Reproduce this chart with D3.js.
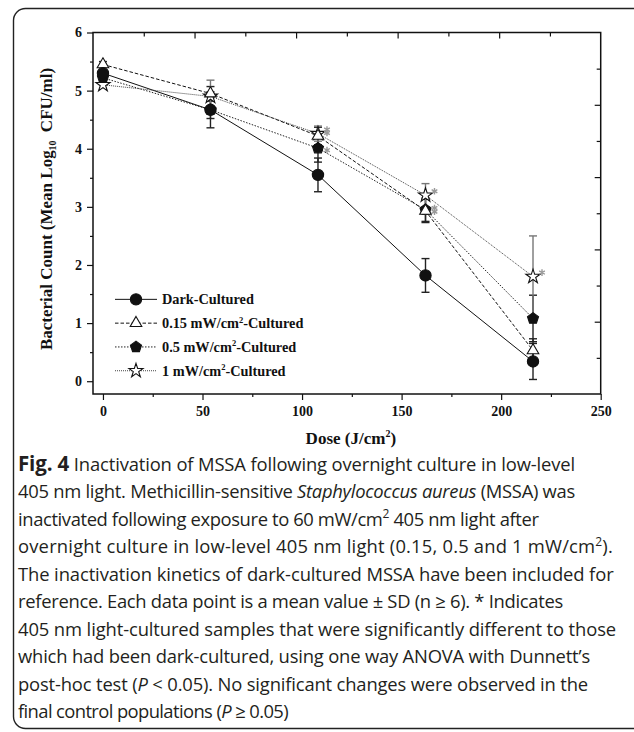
<!DOCTYPE html>
<html>
<head>
<meta charset="utf-8">
<script src="https://cdn.jsdelivr.net/npm/d3@7"></script>
<style>
  body { margin: 0; background: #fff; }
  #container { width: 634px; height: 732px; overflow: hidden; }
  .caption { font-family: "Open Sans", "Noto Sans", sans-serif; font-size: 18.4px; fill: #231f20; }
</style>
</head>
<body>
<div id="container"></div>
<script>
// data
const dose = [0, 54, 108, 162, 216];
const seriesNames = ['Dark-Cultured', '0.15 mW/cm', '0.5  mW/cm', '1  mW/cm'];
const darkMean = [5.30, 4.67, 3.55, 1.82, 0.34];
const darkSD = [0.05, 0.31, 0.29, 0.29, 0.31];
const lowMean = [5.45, 4.95, 4.22, 2.93, 0.53];
const lowSD = [0.05, 0.12, 0.15, 0.2, 0.2];
const midMean = [5.22, 4.67, 4.01, 2.95, 1.08];
const midSD = [0.05, 0.15, 0.24, 0.2, 0.4];
const highMean = [5.10, 4.90, 4.26, 3.20, 1.80];
const highSD = [0.05, 0.28, 0.13, 0.2, 0.7];
const lowSig = [0, 0, 1, 1, 0];
const midSig = [0, 0, 1, 1, 0];
const highSig = [0, 0, 1, 1, 1];
const xTicks = [0, 50, 100, 150, 200, 250];
const yTicks = [0, 1, 2, 3, 4, 5, 6];

const captionLines = [
  [['b', 'Fig. 4'], ['', ' Inactivation of MSSA following overnight culture in low-level']],
  [['', '405 nm light. Methicillin-sensitive '], ['i', 'Staphylococcus aureus'], ['', ' (MSSA) was']],
  [['', 'inactivated following exposure to 60 mW/cm'], ['s', '2'], ['', ' 405 nm light after']],
  [['', 'overnight culture in low-level 405 nm light (0.15, 0.5 and 1 mW/cm'], ['s', '2'], ['', ').']],
  [['', 'The inactivation kinetics of dark-cultured MSSA have been included for']],
  [['', 'reference. Each data point is a mean value \u00b1 SD (n \u2265 6). * Indicates']],
  [['', '405 nm light-cultured samples that were significantly different to those']],
  [['', 'which had been dark-cultured, using one way ANOVA with Dunnett\u2019s']],
  [['', 'post-hoc test ('], ['i', 'P'], ['', ' < 0.05). No significant changes were observed in the']],
  [['', 'final control populations ('], ['i', 'P'], ['', ' \u2265 0.05)']]
];
// right end of each caption line in the reference (layout)
const captionEnds = [575, 575, 539, 613, 614, 563, 616, 590, 588, 288];

const width = 634, height = 732;
const svg = d3.select('#container').append('svg')
  .attr('width', width).attr('height', height);

// rounded frame
svg.append('rect')
  .attr('x', 13.5).attr('y', 8.5)
  .attr('width', 640).attr('height', 720)
  .attr('rx', 12)
  .attr('fill', 'none').attr('stroke', '#222').attr('stroke-width', 1.4);

const pLeft = 93, pRight = 600.7, pTop = 32.5, pBottom = 394;
const x = d3.scaleLinear().domain([-5, 250]).range([pLeft, pRight]);
const y = d3.scaleLinear().domain([-0.22, 6]).range([pBottom, pTop]);
const serif = '"Liberation Serif", "Times New Roman", serif';

const g = svg.append('g').attr('font-family', serif);

// axes
const styleAxis = sel => {
  sel.attr('font-size', 14);
  sel.select('.domain').remove();
  sel.selectAll('line').attr('stroke', '#111').attr('stroke-width', 1.2);
  sel.selectAll('text').attr('font-family', serif).attr('font-weight', 'bold')
    .attr('font-size', 14).attr('fill', '#111');
};

g.append('g').attr('transform', `translate(0,${pBottom})`)
  .call(d3.axisBottom(x).tickValues(xTicks).tickSize(6).tickPadding(6).tickFormat(d3.format('d')))
  .call(styleAxis);
g.append('g').attr('transform', `translate(0,${pBottom})`)
  .call(d3.axisBottom(x).tickValues([25, 75, 125, 175, 225]).tickSize(3).tickFormat(''))
  .call(styleAxis);
g.append('g').attr('transform', `translate(${pLeft},0)`)
  .call(d3.axisLeft(y).tickValues(yTicks).tickSize(6).tickPadding(5).tickFormat(d3.format('d')))
  .call(styleAxis);
g.append('g').attr('transform', `translate(${pLeft},0)`)
  .call(d3.axisLeft(y).tickValues([0.5, 1.5, 2.5, 3.5, 4.5, 5.5]).tickSize(3).tickFormat(''))
  .call(styleAxis);

// top and right frame ticks (ten divisions each)
const xTop = d3.scaleLinear().domain([0, 10]).range([pLeft, pRight]);
const yRight = d3.scaleLinear().domain([0, 10]).range([pBottom, pTop]);
g.append('g').attr('transform', `translate(0,${pTop})`)
  .call(d3.axisBottom(xTop).tickValues(d3.range(1, 10)).tickSize(5).tickFormat(''))
  .call(styleAxis)
  .selectAll('.tick line').attr('y2', d => d % 2 ? 4 : 6);
g.append('g').attr('transform', `translate(${pRight},0)`)
  .call(d3.axisLeft(yRight).tickValues(d3.range(1, 10)).tickSize(5).tickFormat(''))
  .call(styleAxis)
  .selectAll('.tick line').attr('x2', d => d % 2 ? -4 : -6);

g.append('rect')
  .attr('x', pLeft).attr('y', pTop)
  .attr('width', pRight - pLeft).attr('height', pBottom - pTop)
  .attr('fill', 'none').attr('stroke', '#111').attr('stroke-width', 1.5);

// axis titles
const xt = g.append('text')
  .attr('x', (pLeft + pRight) / 2 + 4).attr('y', 444)
  .attr('text-anchor', 'middle').attr('font-weight', 'bold').attr('font-size', 17).attr('fill', '#111');
xt.append('tspan').text('Dose (J/cm');
xt.append('tspan').attr('font-size', 10).attr('dy', -7).text('2');
xt.append('tspan').attr('dy', 7).text(')');

const yt = g.append('text')
  .attr('transform', `translate(52,209) rotate(-90)`)
  .attr('text-anchor', 'middle').attr('font-weight', 'bold').attr('font-size', 17).attr('fill', '#111');
yt.append('tspan').text('Bacterial Count (Mean Log');
yt.append('tspan').attr('font-size', 10).attr('dy', 4).text('10');
yt.append('tspan').attr('dy', -4).attr('dx', 4).text(' CFU/ml)');

// series
const series = [
  {name: seriesNames[0], mean: darkMean, sd: darkSD, sig: null, dash: null, lc: '#111', ec: '#222', sym: 'circle', ast: 0},
  {name: seriesNames[1], mean: lowMean, sd: lowSD, sig: lowSig, dash: '3.5,2', lc: '#111', ec: '#222', sym: 'triangle', ast: -3},
  {name: seriesNames[2], mean: midMean, sd: midSD, sig: midSig, dash: '1.5,1.5', lc: '#222', ec: '#222', sym: 'pentagon', ast: 2},
  {name: seriesNames[3], mean: highMean, sd: highSD, sig: highSig, dash: '1,1', lc: '#444', ec: '#777', sym: 'star', ast: -4}
];

const line = d3.line().x(d => x(d[0])).y(d => y(d[1]));

function symbolPath(sym) {
  if (sym === 'circle') return d3.symbol(d3.symbolCircle, 100)();
  if (sym === 'triangle') return d3.symbol(d3.symbolTriangle, 58)();
  if (sym === 'star') return d3.symbol(d3.symbolStar, 62)();
  // pentagon
  const r = 5.8;
  return d3.range(5).map(i => {
    const a = -Math.PI / 2 + i * 2 * Math.PI / 5;
    return (i ? 'L' : 'M') + (r * Math.cos(a)).toFixed(2) + ',' + (r * Math.sin(a)).toFixed(2);
  }).join('') + 'Z';
}
function symbolFill(sym) {
  return (sym === 'triangle' || sym === 'star') ? '#fff' : '#111';
}

const plot = g.append('g');
series.forEach(s => {
  const pts = dose.map((d, i) => [d, s.mean[i]]);
  plot.append('path')
    .attr('d', line(pts))
    .attr('fill', 'none').attr('stroke', s.lc).attr('stroke-width', 1)
    .attr('stroke-dasharray', s.dash);
});

series.forEach(s => {
  const eb = plot.append('g').attr('stroke', s.ec).attr('stroke-width', 1.4);
  dose.forEach((d, i) => {
    const lo = y(s.mean[i] - s.sd[i]), hi = y(s.mean[i] + s.sd[i]);
    eb.append('line').attr('x1', x(d)).attr('x2', x(d)).attr('y1', lo).attr('y2', hi);
    eb.append('line').attr('x1', x(d) - 4).attr('x2', x(d) + 4).attr('y1', lo).attr('y2', lo);
    eb.append('line').attr('x1', x(d) - 4).attr('x2', x(d) + 4).attr('y1', hi).attr('y2', hi);
  });
});

const asterisk = d3.symbol(d3.symbolAsterisk, 30)();
series.slice().reverse().forEach(s => {
  dose.forEach((d, i) => {
    plot.append('path')
      .attr('d', symbolPath(s.sym))
      .attr('transform', `translate(${x(d)},${y(s.mean[i])})`)
      .attr('fill', symbolFill(s.sym)).attr('stroke', '#111').attr('stroke-width', 1.1);
    if (s.sig && s.sig[i]) {
      plot.append('path')
        .attr('d', asterisk)
        .attr('transform', `translate(${x(d) + 9},${y(s.mean[i]) + s.ast})`)
        .attr('fill', 'none').attr('stroke', '#999').attr('stroke-width', 1.4);
    }
  });
});

// legend
const legend = g.append('g');
series.forEach((s, i) => {
  const ly = y(1.4) - 0.5 + i * 23.8;
  const row = legend.append('g').attr('transform', `translate(0,${ly})`);
  row.append('line').attr('x1', 115).attr('x2', 157).attr('y1', 0).attr('y2', 0)
    .attr('stroke', s.lc).attr('stroke-width', 1).attr('stroke-dasharray', s.dash);
  row.append('path').attr('d', symbolPath(s.sym)).attr('transform', 'translate(136,0)')
    .attr('fill', symbolFill(s.sym)).attr('stroke', '#111').attr('stroke-width', 1.1);
  const t = row.append('text').attr('x', 162).attr('y', 5)
    .attr('font-weight', 'bold').attr('font-size', 14.3).attr('fill', '#111');
  t.append('tspan').text(s.name);
  if (i > 0) {
    t.append('tspan').attr('font-size', 8.5).attr('dy', -5.5).text('2');
    t.append('tspan').attr('dy', 5.5).text('-Cultured');
  }
});

// caption, each line spread to the reference width
const cap = svg.append('g');
captionLines.forEach((parts, i) => {
  const t = cap.append('text').attr('class', 'caption')
    .attr('x', 18).attr('y', 471 + i * 27.45);
  let shifted = false;
  parts.forEach(([k, txt]) => {
    const sp = t.append('tspan').text(txt);
    if (k === 'b') sp.attr('font-weight', 'bold').attr('font-size', 20.5);
    if (k === 'i') sp.attr('font-style', 'italic');
    if (k === 's') { sp.attr('font-size', 12).attr('dy', -7.5); shifted = true; }
    else if (shifted) { sp.attr('dy', 7.5); shifted = false; }
  });
  const len = t.node().getBBox().width;
  const n = t.text().length;
  const ls = Math.max(-1, Math.min(1, (captionEnds[i] - 18 - len) / n));
  t.style('letter-spacing', ls.toFixed(3) + 'px');
});
</script>
</body>
</html>
